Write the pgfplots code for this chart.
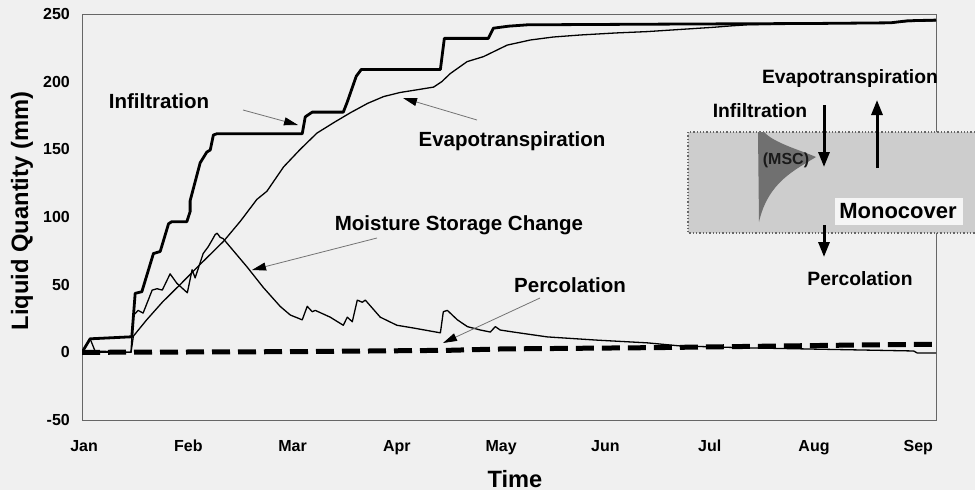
\documentclass[border=0pt]{standalone}
\usepackage{pgfplots}
\pgfplotsset{compat=1.18}
\usepackage{fontspec}
\setmainfont{Liberation Sans}
\usetikzlibrary{arrows.meta}
\definecolor{bg}{RGB}{240,240,240}
\definecolor{insetfill}{RGB}{205,205,205}
\definecolor{mscfill}{RGB}{112,112,112}
\newcommand{\fs}[1]{\fontsize{#1}{#1}\selectfont\bfseries}
\begin{document}
\begin{tikzpicture}
\path[use as bounding box] (0pt,0pt) rectangle (975pt,-490pt);
\fill[bg] (0pt,0pt) rectangle (975pt,-490pt);
\begin{axis}[
  at={(82pt,-420pt)}, anchor=south west,
  scale only axis, width=854pt, height=406pt,
  xmin=-0.02, xmax=8.17, ymin=-50, ymax=250,
  xtick={0,1,2,3,4,5,6,7,8},
  xticklabels={Jan,Feb,Mar,Apr,May,Jun,Jul,Aug,Sep},
  ytick={-50,0,50,100,150,200,250},
  major tick length=0pt,
  axis line style={black!60, line width=0.7pt},
  /pgf/number format/assume math mode=true,
  tick label style={font=\fs{16}},
  yticklabel style={anchor=east, inner sep=0pt, xshift=-12pt},
  xticklabel style={anchor=base, inner sep=0pt, yshift=-31pt},
]
% Percolation
\addplot[black, line width=5pt, dash pattern=on 18pt off 8pt] coordinates {
(-0.02,0) (2,0.5) (3.5,1.5) (4,2.5) (5.5,3.5) (6.5,4.5) (7.5,5.5) (8.17,6)};
% Evapotranspiration
\addplot[black, line width=1.3pt, line join=round] coordinates {
(-0.02,0) (0.45,0) (0.473,12) (0.6,24) (0.75,37) (0.92,50) (1.1,64) (1.337,82) (1.5,97)
(1.657,113) (1.753,119) (1.913,137) (2.073,150) (2.233,162) (2.4,170) (2.553,177)
(2.72,184) (2.873,189) (3.03,192) (3.193,194) (3.352,196) (3.43,200) (3.512,206)
(3.673,214.8) (3.83,218.5) (4.057,227) (4.28,230.8) (4.5,233) (4.76,234.5) (5.1,236)
(5.4,237) (5.7,238.5) (6.04,240.2) (6.2,241.2) (6.36,242) (7.0,243) (7.735,243.5)
(7.9,244.5) (8.17,245)};
% Moisture Storage Change
\addplot[black, line width=1.3pt, line join=round] coordinates {
(-0.02,0) (0.058,10) (0.105,1) (0.45,0) (0.47,27) (0.518,31) (0.566,29) (0.653,46)
(0.70,47) (0.75,46) (0.825,58) (0.89,51) (0.99,44) (1.036,61) (1.065,55) (1.142,73)
(1.19,78) (1.228,83) (1.257,87) (1.276,88) (1.305,85) (1.334,84) (1.564,63) (1.718,48)
(1.88,34) (1.977,27.6) (2.092,24) (2.14,34) (2.188,30) (2.217,31) (2.36,26) (2.486,20)
(2.524,26) (2.572,22.6) (2.62,38.6) (2.668,37) (2.697,38.6) (2.84,26) (3.0,20)
(3.157,18) (3.417,14.4) (3.445,30) (3.484,31) (3.58,24) (3.676,19) (3.8,16.5)
(3.896,15) (3.944,19) (3.99,16.5) (4.117,15) (4.443,11.4) (4.923,9) (5.403,7)
(5.72,4.7) (6.363,3.3) (6.996,2.4) (7.476,1.7) (7.956,1) (7.99,-0.5) (8.17,-0.5)};
% Infiltration
\addplot[black, line width=2.8pt, line join=round] coordinates {
(-0.02,0) (0.058,10) (0.458,11.5) (0.49,43.6) (0.554,44.8) (0.665,73) (0.73,74.5)
(0.81,95) (0.84,96.5) (0.985,96.5) (1.017,104) (1.017,112) (1.113,140) (1.177,148)
(1.21,149.5) (1.24,160.6) (1.273,161.5) (2.092,161.5) (2.121,174) (2.188,177.5)
(2.486,177.5) (2.524,185) (2.61,204) (2.658,209) (3.417,209) (3.455,232) (3.877,232)
(3.925,239.5) (4.07,241) (4.25,242) (5.5,242.5) (7.0,243) (7.735,243.5) (7.9,245)
(8.17,245.5)};
\end{axis}
\begin{scope}[x=1pt, y=-1pt]
% axis titles
\node[anchor=base, font=\fs{23.6}] at (515,487) {Time};
\node[anchor=base, rotate=90, font=\fs{23.7}] at (28,211) {Liquid Quantity (mm)};
% main annotations
\node[anchor=base, font=\fs{20.5}] at (159,108) {Infiltration};
\node[anchor=base, font=\fs{20.5}] at (512,146) {Evapotranspiration};
\node[anchor=base, font=\fs{20.5}] at (459,230) {Moisture Storage Change};
\node[anchor=base, font=\fs{20.5}] at (570,292) {Percolation};
\tikzset{ann/.style={black!55, line width=0.8pt, -{Triangle[length=14pt,width=8pt,color=black]}}}
\draw[ann] (243,110) -- (298,125);
\draw[ann] (477,120) -- (403,98);
\draw[ann] (377,238) -- (252,270);
\draw[ann] (540,298) -- (443,343);
% inset schematic
\fill[insetfill] (688,132) rectangle (975,233);
\draw[black!60, dotted, line width=1.3pt] (975,132) -- (688,132) -- (688,233) -- (975,233);
\fill[mscfill] (758,132) -- (764,132) .. controls (774,143) and (800,150) .. (816,157)
  .. controls (795,170) and (768,182) .. (759,222) -- cycle;
\node[font=\fs{16}, text=black!90] at (786,160) {(MSC)};
\fill[white!96!black] (835,198) rectangle (963,225);
\node[anchor=base, font=\fs{22}] at (898,218) {Monocover};
\tikzset{big/.style={black, line width=3pt, -{Triangle[length=15pt,width=11pt]}}}
\draw[big] (824,105) -- (824,167);
\draw[big] (877,168) -- (877,100);
\draw[big] (824,225) -- (824,257);
\node[anchor=base, font=\fs{19.3}] at (850,83) {Evapotranspiration};
\node[anchor=base, font=\fs{19.3}] at (760,117) {Infiltration};
\node[anchor=base, font=\fs{19.3}] at (860,285) {Percolation};
\end{scope}
\end{tikzpicture}
\end{document}
